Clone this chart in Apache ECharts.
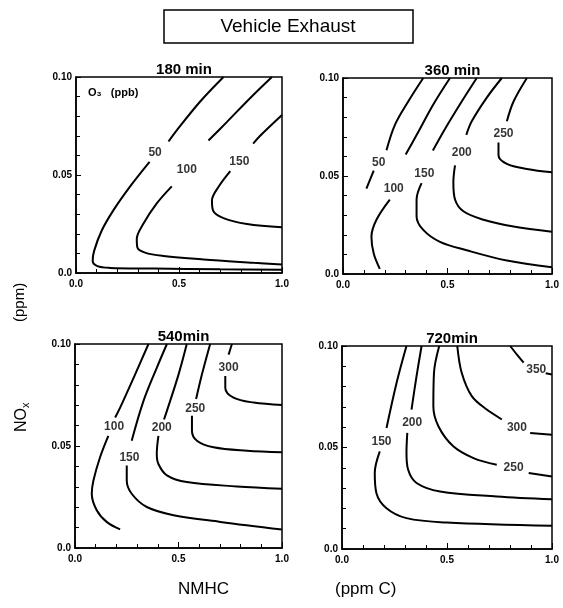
<!DOCTYPE html>
<html>
<head>
<meta charset="utf-8">
<script src="https://cdn.jsdelivr.net/npm/echarts@6/dist/echarts.min.js"></script>
<style>
  html, body { margin: 0; padding: 0; background: #fff; }
  #chart { width: 563px; height: 608px; }
</style>
</head>
<body>
<div id="chart"></div>
<script>
// Irradiation times of the four panels
const panelTimes = ['180 min', '360 min', '540min', '720min'];
const xTickLabels = ['0.0', '0.5', '1.0'];
const yTickLabels = ['0.0', '0.05', '0.10'];

// O3 isopleths, points are [NMHC (ppm C), NOx (ppm)].
// Each level is split into the part before and after its label gap.

// 180 min
const t180_50a = [[0.716,0.1],[0.603,0.0875],[0.489,0.0728],[0.449,0.0671]];
const t180_50b = [[0.357,0.0567],[0.263,0.0442],[0.182,0.0321],[0.125,0.0217],[0.088,0.0113],[0.081,0.0061],[0.104,0.0035],[0.165,0.0026],[0.376,0.0023],[0.70,0.0019],[1.0,0.0016]];
const t180_50l = [0.384,0.0615];
const t180_100a = [[0.951,0.1],[0.846,0.0893],[0.733,0.0771],[0.643,0.0676]];
const t180_100b = [[0.465,0.0442],[0.392,0.0355],[0.327,0.0251],[0.295,0.0173],[0.298,0.013],[0.335,0.0104],[0.425,0.0087],[0.619,0.0069],[0.862,0.0052],[1.0,0.0043]];
const t180_100l = [0.538,0.0529];
const t180_150a = [[1.0,0.0806],[0.894,0.070],[0.86,0.066]];
const t180_150b = [[0.749,0.052],[0.692,0.044],[0.66,0.037],[0.665,0.032],[0.716,0.028],[0.83,0.025],[1.0,0.0234]];
const t180_150l = [0.793,0.057];

// 360 min
const t360_50a = [[0.384,0.1],[0.312,0.088],[0.248,0.076],[0.208,0.0631]];
const t360_50b = [[0.147,0.0528],[0.112,0.0436]];
const t360_50l = [0.171,0.0567];
const t360_100a = [[0.512,0.1],[0.432,0.0865],[0.352,0.0709],[0.30,0.061]];
const t360_100b = [[0.224,0.038],[0.16,0.0277],[0.136,0.019],[0.147,0.0104],[0.176,0.0026]];
const t360_100l = [0.243,0.0433];
const t360_150a = [[0.64,0.1],[0.568,0.088],[0.488,0.074],[0.43,0.063]];
const t360_150b = [[0.376,0.0464],[0.352,0.038],[0.352,0.0294],[0.384,0.0225],[0.464,0.0164],[0.592,0.0121],[0.784,0.0069],[1.0,0.0035]];
const t360_150l = [0.389,0.051];
const t360_200a = [[0.76,0.1],[0.688,0.09],[0.616,0.0779],[0.59,0.071]];
const t360_200b = [[0.536,0.0554],[0.528,0.0467],[0.536,0.038],[0.576,0.032],[0.672,0.0277],[0.816,0.0242],[1.0,0.0216]];
const t360_200l = [0.568,0.062];
const t360_250a = [[0.88,0.1],[0.816,0.088],[0.784,0.0779]];
const t360_250b = [[0.744,0.0671],[0.744,0.0606],[0.784,0.0562],[0.88,0.0536],[1.0,0.0519]];
const t360_250l = [0.768,0.0714];

// 540 min
const t540_100a = [[0.355,0.1],[0.29,0.085],[0.218,0.0688],[0.194,0.064]];
const t540_100b = [[0.161,0.055],[0.121,0.0445],[0.089,0.0331],[0.081,0.0266],[0.105,0.0185],[0.153,0.0128],[0.218,0.0091]];
const t540_100l = [0.189,0.0594];
const t540_150a = [[0.444,0.1],[0.395,0.0883],[0.331,0.0721],[0.274,0.0526]];
const t540_150b = [[0.25,0.0404],[0.25,0.0331],[0.274,0.0266],[0.347,0.0201],[0.476,0.0161],[0.702,0.0128],[1.0,0.0091]];
const t540_150l = [0.263,0.0442];
const t540_200a = [[0.54,0.1],[0.5,0.085],[0.444,0.0672],[0.43,0.063]];
const t540_200b = [[0.403,0.055],[0.395,0.0461],[0.403,0.0412],[0.444,0.0356],[0.54,0.0323],[0.782,0.0302],[1.0,0.0291]];
const t540_200l = [0.419,0.0589];
const t540_250a = [[0.653,0.1],[0.613,0.085],[0.585,0.073]];
const t540_250b = [[0.565,0.0648],[0.565,0.0575],[0.589,0.0526],[0.669,0.0494],[0.831,0.0477],[1.0,0.0469]];
const t540_250l = [0.581,0.0685];
const t540_300a = [[0.758,0.1],[0.742,0.0948]];
const t540_300b = [[0.726,0.0843],[0.726,0.0786],[0.766,0.0737],[0.863,0.0713],[1.0,0.0701]];
const t540_300l = [0.742,0.0883];

// 720 min
const t720_150a = [[0.307,0.1],[0.26,0.0819],[0.212,0.0596]];
const t720_150b = [[0.18,0.0481],[0.156,0.0374],[0.164,0.0275],[0.212,0.0201],[0.307,0.0152],[0.498,0.013],[1.0,0.0114]];
const t720_150l = [0.188,0.053];
const t720_200a = [[0.379,0.1],[0.355,0.0852],[0.331,0.0687]];
const t720_200b = [[0.311,0.0572],[0.307,0.0473],[0.315,0.039],[0.355,0.0325],[0.467,0.0283],[0.737,0.0259],[1.0,0.0245]];
const t720_200l = [0.334,0.0624];
const t720_250a = [[0.463,0.1],[0.438,0.0868],[0.435,0.0703],[0.459,0.0605],[0.53,0.0506],[0.626,0.0448],[0.737,0.0415]];
const t720_250b = [[0.889,0.0374],[1.0,0.0357]];
const t720_250l = [0.817,0.0399];
const t720_300a = [[0.549,0.1],[0.57,0.0868],[0.618,0.0753],[0.689,0.0687],[0.761,0.0638]];
const t720_300b = [[0.896,0.0572],[1.0,0.0563]];
const t720_300l = [0.833,0.06];
const t720_350a = [[0.801,0.1],[0.835,0.0955],[0.865,0.0918]];
const t720_350b = [[0.97,0.0866],[1.0,0.086]];
const t720_350l = [0.925,0.0883];

const panels = [
  { grid: { left: 76, top: 77, width: 206, height: 196 },
    levels: [[50, t180_50a, t180_50b, t180_50l], [100, t180_100a, t180_100b, t180_100l], [150, t180_150a, t180_150b, t180_150l]] },
  { grid: { left: 343, top: 78, width: 209, height: 196 },
    levels: [[50, t360_50a, t360_50b, t360_50l], [100, t360_100a, t360_100b, t360_100l], [150, t360_150a, t360_150b, t360_150l],
             [200, t360_200a, t360_200b, t360_200l], [250, t360_250a, t360_250b, t360_250l]] },
  { grid: { left: 75, top: 344, width: 207, height: 204 },
    levels: [[100, t540_100a, t540_100b, t540_100l], [150, t540_150a, t540_150b, t540_150l], [200, t540_200a, t540_200b, t540_200l],
             [250, t540_250a, t540_250b, t540_250l], [300, t540_300a, t540_300b, t540_300l]] },
  { grid: { left: 342, top: 346, width: 210, height: 203 },
    levels: [[150, t720_150a, t720_150b, t720_150l], [200, t720_200a, t720_200b, t720_200l], [250, t720_250a, t720_250b, t720_250l],
             [300, t720_300a, t720_300b, t720_300l], [350, t720_350a, t720_350b, t720_350l]] }
];

const FONT = 'Liberation Sans';
const black = '#000';

const grids = [], xAxes = [], yAxes = [], titles = [], series = [];

panels.forEach((p, i) => {
  grids.push(Object.assign({ show: true, borderColor: black, borderWidth: 1.5, backgroundColor: 'transparent' }, p.grid));
  xAxes.push({
    gridIndex: i, type: 'value', min: 0, max: 1, interval: 0.5,
    axisLine: { show: true, lineStyle: { color: black, width: 1.5 } },
    axisTick: { show: true, inside: true, length: 6, lineStyle: { color: black, width: 1 } },
    minorTick: { show: true, splitNumber: 5, length: 4, lineStyle: { color: black, width: 1 } },
    splitLine: { show: false },
    axisLabel: { color: black, fontFamily: FONT, fontSize: 10, fontWeight: 'bold', margin: 6,
                 formatter: v => xTickLabels[Math.round(v / 0.5)] }
  });
  yAxes.push({
    gridIndex: i, type: 'value', min: 0, max: 0.1, interval: 0.05,
    axisLine: { show: true, lineStyle: { color: black, width: 1.5 } },
    axisTick: { show: true, inside: true, length: 5, lineStyle: { color: black, width: 1 } },
    minorTick: { show: true, splitNumber: 5, length: 4, lineStyle: { color: black, width: 1 } },
    splitLine: { show: false },
    axisLabel: { color: black, fontFamily: FONT, fontSize: 10, fontWeight: 'bold', margin: 4,
                 formatter: v => yTickLabels[Math.round(v / 0.05)] }
  });
  titles.push({
    text: panelTimes[i],
    left: p.grid.left + p.grid.width / 2, top: p.grid.top - 20, textAlign: 'center',
    textStyle: { fontFamily: FONT, fontSize: 15, fontWeight: 'bold', color: black }
  });

  const labelPts = [];
  p.levels.forEach(([lev, a, b, at]) => {
    [a, b].forEach(seg => {
      series.push({
        type: 'line', xAxisIndex: i, yAxisIndex: i, data: seg,
        showSymbol: false, smooth: 0.35, clip: true, silent: true,
        lineStyle: { color: black, width: 2 }
      });
    });
    labelPts.push([at[0], at[1], lev]);
  });
  series.push({
    type: 'scatter', xAxisIndex: i, yAxisIndex: i, data: labelPts,
    symbolSize: 0, silent: true,
    label: { show: true, position: 'inside', formatter: d => String(d.data[2]),
             color: black, fontFamily: FONT, fontSize: 12, fontWeight: 'bold' }
  });
});

const chart = echarts.init(document.getElementById('chart'), null, { renderer: 'canvas' });
chart.setOption({
  animation: false,
  backgroundColor: '#fff',
  title: titles,
  grid: grids,
  xAxis: xAxes,
  yAxis: yAxes,
  series: series,
  graphic: [
    { type: 'rect', shape: { x: 164, y: 10, width: 249, height: 33 },
      style: { fill: 'none', stroke: black, lineWidth: 1.5 } },
    { type: 'text', x: 288, y: 27,
      style: { text: 'Vehicle Exhaust', font: '19px "Liberation Sans"', fill: black,
               textAlign: 'center', textVerticalAlign: 'middle' } },
    { type: 'text', left: 88, top: 87,
      style: { text: 'O₃   (ppb)', font: 'bold 11px "Liberation Sans"', fill: black } },
    { type: 'text', x: 12, y: 432, rotation: Math.PI / 2,
      style: { text: 'NO{s|x}', font: '16px "Liberation Sans"', fill: black,
               rich: { s: { fontSize: 11, fontFamily: FONT, padding: [8, 0, 0, 0] } } } },
    { type: 'text', x: 12, y: 322, rotation: Math.PI / 2,
      style: { text: '(ppm)', font: '15px "Liberation Sans"', fill: black } },
    { type: 'text', left: 178, top: 581,
      style: { text: 'NMHC', font: '17px "Liberation Sans"', fill: black } },
    { type: 'text', left: 335, top: 581,
      style: { text: '(ppm C)', font: '17px "Liberation Sans"', fill: black } }
  ]
});
</script>
</body>
</html>
